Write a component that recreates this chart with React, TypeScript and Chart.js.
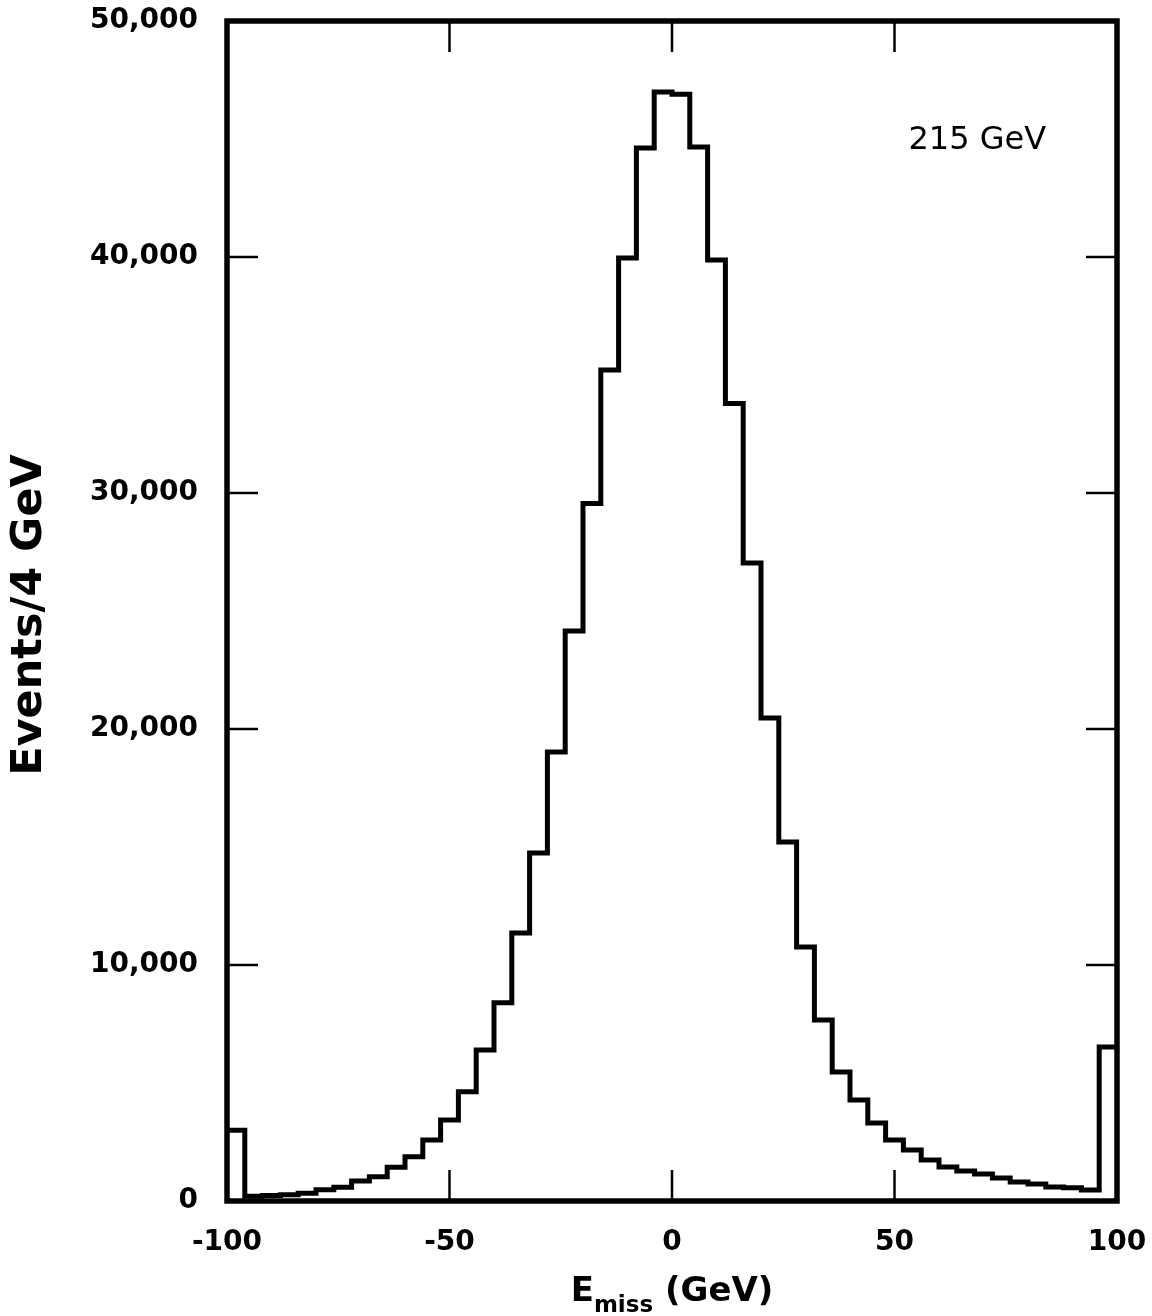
import React, { useEffect, useRef } from "react";
import { Chart, registerables } from "chart.js";

Chart.register(...registerables);

// Left edges of the 4 GeV bins (GeV)
const binLeftEdges = [
  -100, -96, -92, -88, -84, -80, -76, -72, -68, -64,
  -60, -56, -52, -48, -44, -40, -36, -32, -28, -24,
  -20, -16, -12, -8, -4, 0, 4, 8, 12, 16,
  20, 24, 28, 32, 36, 40, 44, 48, 52, 56,
  60, 64, 68, 72, 76, 80, 84, 88, 92, 96,
];
const binUpperEdge = 100;

// Events per 4 GeV bin
const eventsPerBin = [
  3000, 200, 230, 270, 330, 480, 580, 850, 1030, 1430,
  1880, 2580, 3430, 4630, 6400, 8400, 11360, 14750, 19030, 24150,
  29550, 35210, 39960, 44620, 46990, 46900, 44660, 39870, 33790, 27030,
  20470, 15210, 10760, 7670, 5470, 4280, 3300, 2580, 2160, 1740,
  1440, 1270, 1140, 970, 800, 720, 590, 560, 470, 6530,
];

const xTickValues = [-100, -50, 0, 50, 100];
const xTickLabels = ["-100", "-50", "0", "50", "100"];
const yTickValues = [0, 10000, 20000, 30000, 40000, 50000];
const yTickLabels = ["0", "10,000", "20,000", "30,000", "40,000", "50,000"];

const yTitle = "Events/4 GeV";
const xTitleMain = "E";
const xTitleSub = "miss";
const xTitleRest = " (GeV)";
const energyLabel = "215 GeV";

const FONT = "'DejaVu Sans', sans-serif";

const framePlugin = {
  id: "framePlugin",
  afterDatasetsDraw(chart: any) {
    const { ctx, chartArea } = chart;
    const xs = chart.scales.x;
    const ys = chart.scales.y;
    const { left, right, top, bottom } = chartArea;
    ctx.save();
    ctx.strokeStyle = "#000";
    // inward ticks
    ctx.lineWidth = 2.5;
    const tl = 31;
    xTickValues.forEach((v) => {
      if (v === xs.min || v === xs.max) return;
      const px = xs.getPixelForValue(v);
      ctx.beginPath();
      ctx.moveTo(px, bottom);
      ctx.lineTo(px, bottom - tl);
      ctx.moveTo(px, top);
      ctx.lineTo(px, top + tl);
      ctx.stroke();
    });
    yTickValues.forEach((v) => {
      if (v === ys.min || v === ys.max) return;
      const py = ys.getPixelForValue(v);
      ctx.beginPath();
      ctx.moveTo(left, py);
      ctx.lineTo(left + tl, py);
      ctx.moveTo(right, py);
      ctx.lineTo(right - tl, py);
      ctx.stroke();
    });
    // frame
    ctx.lineWidth = 5.5;
    ctx.lineJoin = "miter";
    ctx.strokeRect(left, top, right - left, bottom - top);

    ctx.fillStyle = "#000";
    // energy annotation
    ctx.font = `32px ${FONT}`;
    ctx.textAlign = "center";
    ctx.textBaseline = "middle";
    ctx.fillText(energyLabel, left + (right - left) * 0.843, top + 120);

    // x title with subscript
    const bigFont = `bold 34px ${FONT}`;
    const subFont = `bold 23px ${FONT}`;
    ctx.textAlign = "left";
    ctx.textBaseline = "alphabetic";
    ctx.font = bigFont;
    const wE = ctx.measureText(xTitleMain).width;
    const wR = ctx.measureText(xTitleRest).width;
    ctx.font = subFont;
    const wS = ctx.measureText(xTitleSub).width;
    const total = wE + wS + wR;
    const cx = xs.getPixelForValue(0);
    let x0 = cx - total / 2;
    const base = bottom + 100;
    ctx.font = bigFont;
    ctx.fillText(xTitleMain, x0, base);
    x0 += wE;
    ctx.font = subFont;
    ctx.fillText(xTitleSub, x0, base + 11);
    x0 += wS;
    ctx.font = bigFont;
    ctx.fillText(xTitleRest, x0, base);

    // y title
    ctx.translate(30, 615);
    ctx.rotate(-Math.PI / 2);
    ctx.font = `bold 43px ${FONT}`;
    ctx.textAlign = "center";
    ctx.textBaseline = "middle";
    ctx.fillText(yTitle, 0, 0);
    ctx.restore();
  },
};

export default function App() {
  const canvasRef = useRef<HTMLCanvasElement | null>(null);

  useEffect(() => {
    const canvas = canvasRef.current;
    if (!canvas) return;
    const points = binLeftEdges.map((x, i) => ({ x, y: eventsPerBin[i] }));
    points.push({ x: binUpperEdge, y: eventsPerBin[eventsPerBin.length - 1] });

    const chart = new Chart(canvas, {
      type: "line",
      data: {
        datasets: [
          {
            label: "Events",
            data: points,
            stepped: "before",
            borderColor: "#000",
            borderWidth: 5,
            pointRadius: 0,
            fill: false,
            borderJoinStyle: "miter",
            borderCapStyle: "butt",
          } as any,
        ],
      },
      options: {
        responsive: false,
        animation: false,
        devicePixelRatio: 1,
        layout: { padding: { left: 0, right: 35, top: 21, bottom: 0 } },
        plugins: {
          legend: { display: false },
          tooltip: { enabled: false },
          title: { display: false },
        },
        scales: {
          x: {
            type: "linear",
            min: -100,
            max: 100,
            afterBuildTicks: (s: any) => {
              s.ticks = xTickValues.map((v) => ({ value: v }));
            },
            afterFit: (s: any) => {
              s.height = 115;
              s.paddingLeft = 0;
              s.paddingRight = 0;
            },
            ticks: {
              autoSkip: false,
              maxRotation: 0,
              padding: 25,
              color: "#000",
              font: { family: FONT, size: 28, weight: "bold" },
              callback: (v: any) => {
                const i = xTickValues.indexOf(Number(v));
                return i >= 0 ? xTickLabels[i] : "";
              },
            },
            grid: { display: false, drawTicks: false },
            border: { display: false },
          },
          y: {
            type: "linear",
            min: 0,
            max: 50000,
            afterBuildTicks: (s: any) => {
              s.ticks = yTickValues.map((v) => ({ value: v }));
            },
            afterFit: (s: any) => {
              s.width = 227;
              s.paddingTop = 0;
              s.paddingBottom = 0;
            },
            ticks: {
              autoSkip: false,
              padding: 29,
              color: "#000",
              font: { family: FONT, size: 28, weight: "bold" },
              callback: (v: any) => {
                const i = yTickValues.indexOf(Number(v));
                return i >= 0 ? yTickLabels[i] : "";
              },
            },
            grid: { display: false, drawTicks: false },
            border: { display: false },
          },
        },
      },
      plugins: [framePlugin],
    });
    return () => chart.destroy();
  }, []);

  return (
    <div
      style={{
        position: "fixed",
        left: 0,
        top: 0,
        width: 1152,
        height: 1316,
        background: "#fff",
      }}
    >
      <canvas ref={canvasRef} width={1152} height={1316} />
    </div>
  );
}
